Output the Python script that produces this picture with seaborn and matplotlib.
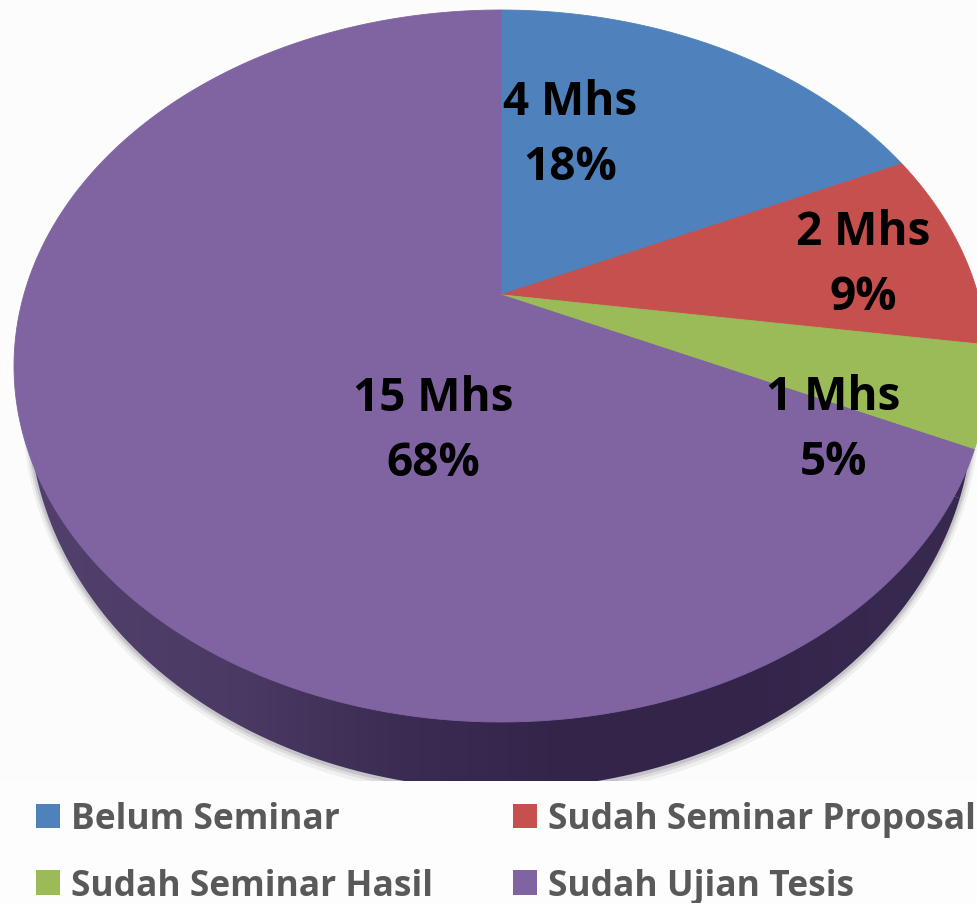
import numpy as np
import matplotlib
matplotlib.use("Agg")
import matplotlib.pyplot as plt
from matplotlib.path import Path
from matplotlib.transforms import Transform
from matplotlib.patches import Patch, Rectangle
import seaborn as sns

categories = ["Belum Seminar", "Sudah Seminar Proposal", "Sudah Seminar Hasil", "Sudah Ujian Tesis"]
students = [4, 2, 1, 15]
percents = [18, 9, 5, 68]
colors = ["#4f81bd", "#c5504e", "#9bbb59", "#8064a2"]

sns.set_theme(style="white")
plt.rcParams["font.family"] = ["Open Sans", "DejaVu Sans"]

W, H = 977, 904
fig = plt.figure(figsize=(W / 100, H / 100), dpi=100, facecolor="#fcfcfc")
ax = fig.add_axes([0, 0, 1, 1])


class Tilt(Transform):
    """Perspective view of the unit-circle pie, in pixel coordinates."""
    input_dims = output_dims = 2

    def __init__(self, cy=367.0, rx=487.0, ry=356.0, a=0.2):
        super().__init__()
        self.cy, self.rx, self.ry, self.a = cy, rx, ry, a

    def transform_non_affine(self, v):
        v = np.asarray(v, float)
        x, y = v[:, 0], v[:, 1]
        d = 1 + self.a * y
        xp = x * np.sqrt(1 - self.a ** 2) / d
        yp = (y + self.a) / d
        return np.column_stack([501 + self.rx * xp, self.cy - self.ry * yp])

    def transform_path_non_affine(self, path):
        # flatten the arcs at a large scale so the outline stays smooth
        big = Path(path.vertices * 3000, path.codes)
        polys = big.to_polygons(closed_only=True)
        pts = np.vstack(polys) / 3000
        return Path(self.transform_non_affine(pts), closed=True)


def pie_layer(tilt, cols, z, lw=0.0):
    w, _ = ax.pie(students, colors=cols, startangle=90, counterclock=False, frame=False)
    for p, c in zip(w, cols):
        p.set_transform(tilt + ax.transData)
        p.set_zorder(z)
        p.set_edgecolor(c)
        p.set_linewidth(lw)
    return w


# soft shadow below the disc
for grow, shade in [(10, "#efeff0"), (6, "#dcdcde"), (3, "#c4c3c8")]:
    pie_layer(Tilt(410, 472 + grow * 0.6, 380 + grow), [shade] * 4, 1, 0.8)

# side wall, shaded from left to right
side = pie_layer(Tilt(410, 472, 380), ["#3d2e55"] * 4, 2, 0.8)
grad = np.array([[0.0, 0.2, 0.75, 1.0, 1.0, 0.85]])
cmap = matplotlib.colors.LinearSegmentedColormap.from_list("side", ["#4f3f6a", "#33254a"])
for p in side:
    p.set_visible(False)
    im = ax.imshow(grad, extent=(0, W, 800, 300), aspect="auto", cmap=cmap, zorder=2,
                   interpolation="bilinear")
    im.set_clip_path(p.get_path(), p.get_transform())

# top surface
wedges = pie_layer(Tilt(), colors, 3, 0.6)

ax.set_aspect("auto")
ax.set_xlim(0, W)
ax.set_ylim(H, 0)
ax.axis("off")
ax.add_patch(Rectangle((0, 782), W, H - 782, facecolor="#fdfdfd", edgecolor="none", zorder=4))

label_pos = [(570, 135), (863, 265), (833, 430), (433, 431)]
for (x, y), n, pct in zip(label_pos, students, percents):
    ax.text(x, y, f"{n} Mhs\n{pct}%", ha="center", va="center", fontsize=33,
            fontweight="bold", color="black", linespacing=1.49, zorder=5)

handles = [Patch(facecolor=c, edgecolor="none") for c in colors]
order = [0, 2, 1, 3]
leg = fig.legend([handles[i] for i in order], [categories[i] for i in order], ncol=2,
                 loc="lower left", bbox_to_anchor=(36 / W, -1 / H),
                 bbox_transform=fig.transFigure, frameon=False,
                 labelcolor="#595959", prop=dict(family="Open Sans", weight="bold", size=25.5),
                 handlelength=0.68, handleheight=0.68, handletextpad=0.3,
                 columnspacing=2.27, labelspacing=0.87, borderpad=0, borderaxespad=0)

fig.savefig("out.png", dpi=100, facecolor=fig.get_facecolor())
